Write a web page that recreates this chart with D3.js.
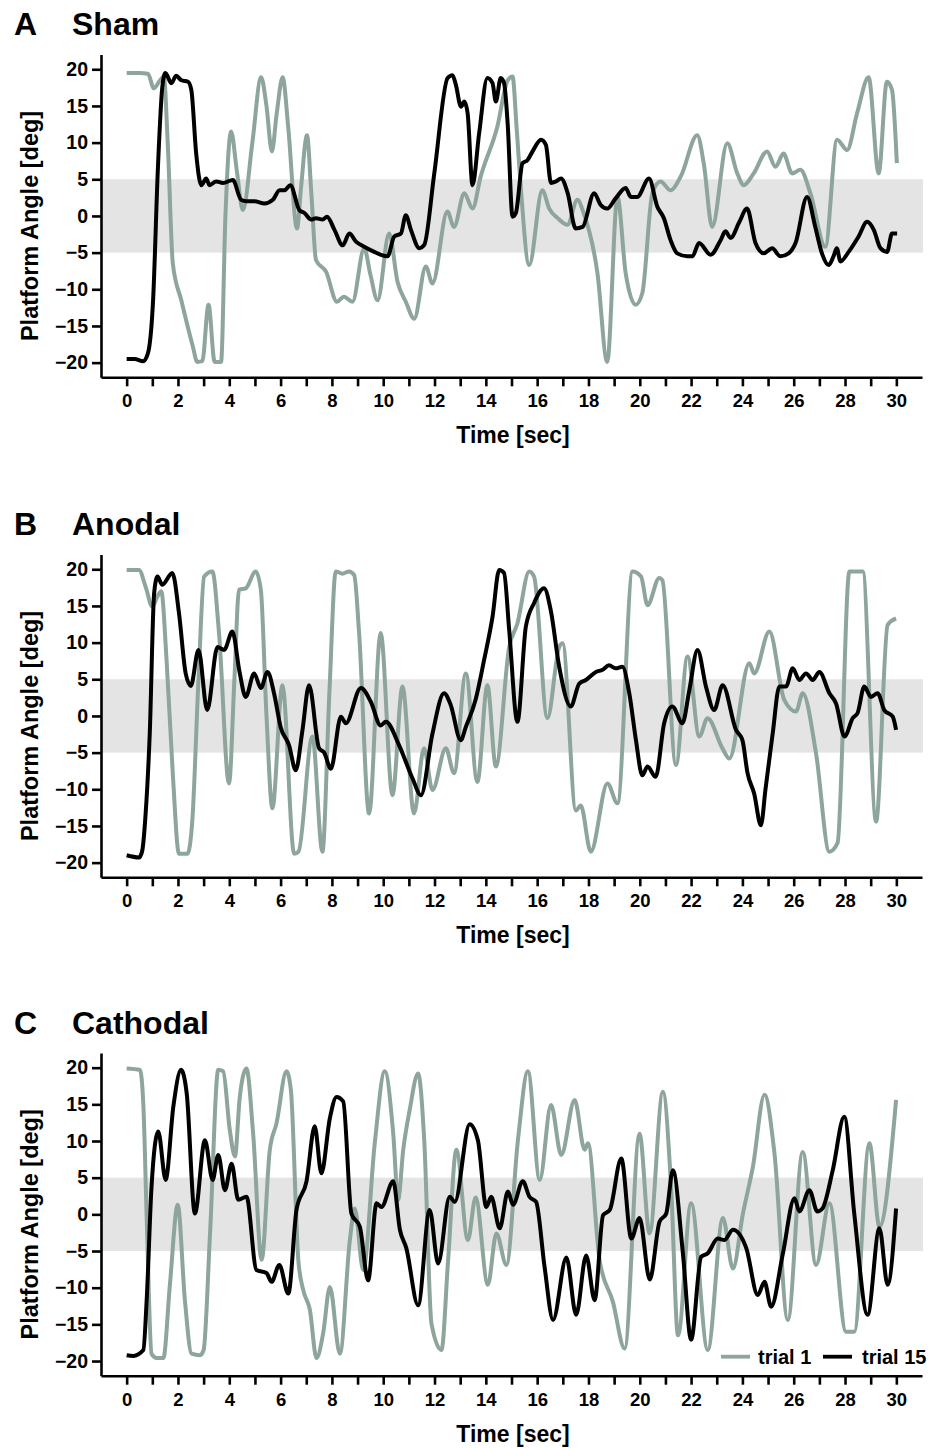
<!DOCTYPE html>
<html>
<head>
<meta charset="utf-8">
<script src="https://cdn.jsdelivr.net/npm/d3@7"></script>
<style>
  body { margin: 0; background: #fff; }
  svg { display: block; font-family: "Liberation Sans", Arial, sans-serif; font-weight: bold; }
</style>
</head>
<body>
<svg id="chart" width="936" height="1448"></svg>
<script>
// time [sec], platform angle [deg]
var shamTrial1 = [[0,19.5],[0.5,19.5],[0.83,19.4],[1.06,17.4],[1.3,18.5],[1.45,19],[1.6,10],[1.8,-6.5],[2.13,-11.5],[2.58,-17.8],[2.75,-19.9],[2.95,-19.8],[3.19,-12.1],[3.43,-19.9],[3.68,-19.9],[3.85,0],[4.07,11.5],[4.3,6],[4.53,0.8],[4.9,10],[5.24,18.9],[5.45,15],[5.66,8.8],[5.85,14],[6.08,18.9],[6.3,12],[6.64,-1.7],[6.8,4],[7.03,11],[7.2,3],[7.38,-6],[7.77,-7.6],[8.2,-11.7],[8.47,-11],[8.8,-11.7],[9.26,-4.4],[9.5,-8],[9.78,-11.5],[10.23,-2.4],[10.56,-9],[10.88,-11.7],[11.21,-14],[11.66,-6.9],[11.92,-9.2],[12.5,0.6],[12.76,-1.5],[13.16,3.1],[13.48,1.0],[13.8,5.4],[14.45,12.2],[14.85,18.5],[15.04,19],[15.2,12],[15.36,4],[15.69,-6.7],[16.2,3.5],[16.47,1],[16.8,-0.3],[17.18,-1.2],[17.57,2.2],[17.8,0.5],[18.35,-7.8],[18.73,-19.9],[19.13,2.6],[19.45,-7.8],[19.84,-12.1],[20.1,-10.5],[20.49,3.1],[20.81,4.7],[21.2,3.5],[21.6,5.4],[22.24,11],[22.5,7],[22.82,-1.5],[23.41,9.9],[23.8,5.8],[24.05,4.2],[24.44,5.8],[24.96,8.8],[25.29,6.7],[25.6,8.5],[25.94,5.8],[26.26,6.3],[26.65,3.1],[27.23,-4.2],[27.69,10.4],[28.08,9.0],[28.47,14],[28.92,18.9],[29.31,5.8],[29.63,18.3],[29.83,17.2],[30.02,7.2]];

var shamTrial15 = [[0,-19.5],[0.31,-19.5],[0.64,-19.8],[0.83,-18.7],[1.03,-11.5],[1.22,6.7],[1.39,17.6],[1.51,19.5],[1.74,18.1],[1.93,19.1],[2.13,18.5],[2.39,18.3],[2.52,17.2],[2.71,8.5],[2.91,4.2],[3.1,5.1],[3.23,4.2],[3.49,4.7],[3.75,4.5],[4.14,4.9],[4.46,2.2],[4.66,2],[4.98,2],[5.37,1.7],[5.7,2.2],[5.96,3.5],[6.15,3.5],[6.38,4.2],[6.73,0.8],[6.93,0.4],[7.19,-0.5],[7.38,-0.3],[7.64,-0.5],[7.81,-0.1],[8.1,-1.9],[8.42,-4],[8.68,-2.4],[8.94,-3.5],[9.26,-4.2],[9.65,-4.9],[9.91,-5.3],[10.17,-5.5],[10.43,-2.8],[10.69,-2.4],[10.88,0.1],[11.08,-1.9],[11.41,-4.4],[11.6,-3.95],[11.99,5.8],[12.51,18.8],[12.7,19.2],[12.83,17.9],[13.03,14.9],[13.16,15.6],[13.29,14],[13.48,4.2],[13.74,11.3],[14.06,18.8],[14.26,18.1],[14.39,15.6],[14.58,18.8],[14.71,18.1],[14.85,12.6],[15.04,-0.1],[15.17,0.4],[15.43,7.2],[15.62,7.6],[15.82,8.8],[16.15,10.4],[16.34,9.7],[16.54,4.5],[16.73,4.7],[16.93,5.1],[17.19,3.1],[17.5,-1.7],[17.77,-1.5],[18.22,3.1],[18.48,1.5],[18.73,1],[19.06,2.4],[19.45,3.8],[19.65,2.6],[19.9,2.6],[20.36,5.1],[20.68,1.3],[20.94,-0.3],[21.2,-3.3],[21.46,-5.1],[21.85,-5.5],[22.05,-5.5],[22.31,-3.7],[22.76,-5.3],[23.15,-3.3],[23.34,-2.1],[23.54,-3.0],[23.87,-0.9],[24.18,1.0],[24.51,-3.7],[24.83,-5.1],[25.16,-4.4],[25.48,-5.5],[25.8,-5.1],[26.07,-3.7],[26.52,2.6],[26.84,-1.5],[27.1,-5.1],[27.36,-6.7],[27.55,-5.5],[27.68,-4.4],[27.82,-6.2],[28.14,-4.9],[28.53,-2.8],[28.86,-0.8],[29.12,-1.9],[29.38,-4.4],[29.64,-4.9],[29.83,-2.4],[30.03,-2.4]];

var anodalTrial1 = [[0,19.9],[0.48,19.9],[0.74,17.6],[1.0,14.9],[1.2,16.3],[1.35,17],[1.55,8],[1.8,-8],[2.04,-18.8],[2.37,-18.8],[2.56,-14.2],[2.8,5],[3.02,19],[3.34,19.7],[3.6,11.3],[3.99,-9.2],[4.2,5],[4.38,17.2],[4.64,17.4],[5.03,19.7],[5.23,17.2],[5.45,0],[5.68,-12.6],[6.07,4.2],[6.53,-18.8],[6.7,-18.5],[7.24,-2.8],[7.63,-18.5],[7.9,3],[8.15,19.7],[8.41,19.4],[8.67,19.7],[8.87,19.2],[9.06,11.3],[9.45,-13.3],[9.9,11.3],[10.36,-10.8],[10.75,4.0],[11.2,-13.3],[11.59,-4.4],[11.92,-10.1],[12.44,-4.4],[12.76,-7.8],[13.22,5.8],[13.67,-9.0],[14.06,4.2],[14.39,-6.9],[14.91,9.4],[15.23,12.6],[15.69,19.7],[15.88,19],[16.4,-0.3],[16.86,9.4],[16.99,9.9],[17.51,-12.9],[17.7,-12.2],[18.09,-18.5],[18.74,-9.2],[19.13,-11.9],[19.72,19.7],[20.05,19],[20.3,15.1],[20.76,18.8],[20.88,18.5],[21.41,-6.7],[21.86,8.1],[22.32,-2.8],[22.64,-0.3],[23.22,-4.4],[23.49,-5.8],[24.27,7.2],[24.46,5.8],[25.05,11.5],[25.63,2.2],[26.09,0.6],[26.35,3.1],[26.87,-5.1],[27.39,-18.5],[27.71,-17.3],[28.17,19.7],[28.69,19.7],[29.21,-14.4],[29.66,12.4],[29.99,13.3]];

var anodalTrial15 = [[0,-19],[0.48,-19.3],[0.6,-18.5],[0.74,-13.3],[0.9,-2.4],[1.07,16.7],[1.2,19],[1.39,17.9],[1.78,19.5],[2.04,14],[2.3,5.8],[2.5,4.1],[2.8,9],[3.14,0.8],[3.54,9.4],[3.8,9.0],[4.12,11.5],[4.4,6],[4.64,2.6],[4.97,5.8],[5.23,3.8],[5.49,6.0],[5.75,3],[6.0,-1.5],[6.33,-4.0],[6.59,-7.4],[6.85,-2],[7.11,4.2],[7.5,-4.4],[7.7,-5],[7.96,-7.2],[8.35,-0.1],[8.54,-1.0],[9.13,3.8],[9.52,1.9],[9.9,-1.3],[10.1,-0.8],[10.62,-4.0],[11.14,-8.5],[11.47,-10.8],[11.92,-2.4],[12.37,3.1],[12.63,1.5],[13.02,-3.3],[13.22,-1.5],[13.6,2.2],[13.93,7.6],[14.26,13.5],[14.52,19.9],[14.71,19.5],[14.91,11.7],[15.23,-0.8],[15.56,12.2],[15.88,15.4],[16.27,17.4],[16.53,14.4],[16.86,6.7],[17.31,1.3],[17.64,4.4],[17.9,4.9],[18.29,6.0],[18.55,6.3],[18.8,6.9],[19.06,6.5],[19.32,6.7],[19.59,3.1],[19.85,-3.3],[20.1,-8.1],[20.3,-6.9],[20.62,-8.3],[20.95,-1.0],[21.27,1.3],[21.66,-1.0],[21.93,3.5],[22.25,9.0],[22.58,4.0],[22.9,0.8],[23.23,4.2],[23.75,-1.9],[24.0,-3.3],[24.2,-7.8],[24.46,-10.6],[24.72,-14.9],[24.9,-10],[25.18,-2.4],[25.44,4.0],[25.7,4.0],[25.96,6.5],[26.22,4.9],[26.48,5.8],[26.74,4.9],[27.0,6.0],[27.39,3.1],[27.65,1.7],[27.98,-2.8],[28.3,-0.3],[28.49,0.4],[28.75,4.0],[29.01,2.6],[29.27,3.1],[29.53,0.8],[29.86,-0.1],[29.99,-1.9]];

var cathodalTrial1 = [[0,19.9],[0.52,19.7],[0.65,15],[0.78,-0.3],[0.97,-19],[1.17,-19.6],[1.43,-19.6],[1.69,-9.4],[1.99,1.3],[2.27,-11.7],[2.53,-19],[2.86,-19.2],[3.0,-18.5],[3.25,-2.6],[3.57,19.7],[3.76,19.5],[4.02,11.5],[4.22,7.9],[4.41,16],[4.67,19.9],[4.93,11],[5.26,-6.2],[5.58,8.8],[5.84,12.4],[6.23,19.5],[6.4,17],[6.69,-6.2],[6.88,-10.3],[7.14,-13],[7.4,-19.6],[7.66,-16.2],[7.92,-9.9],[8.31,-19],[8.7,-3.5],[8.89,0.8],[9.22,-7.6],[9.67,9.7],[10.06,19.5],[10.39,11],[10.58,2],[10.78,8.8],[11.03,14.2],[11.36,19.2],[11.6,10],[11.88,-14.9],[12.27,-18.5],[12.53,-6.2],[12.85,8.8],[13.3,-3.5],[13.6,2.3],[14.08,-9.6],[14.41,-2.6],[14.8,-6.9],[15.25,10.1],[15.64,19.5],[16.1,4.7],[16.54,14.9],[16.94,8.1],[17.46,15.6],[17.85,8.8],[17.98,9.7],[18.43,-6.2],[18.95,-11.9],[19.41,-18.3],[19.99,11],[20.38,-2.6],[20.9,16.7],[21.22,3.8],[21.49,-16.5],[22.0,1.5],[22.65,-18.5],[23.24,-0.5],[23.63,-7.4],[24.02,0.1],[24.41,6.5],[24.86,16.3],[25.25,8.3],[25.77,-14.4],[26.35,8.5],[26.87,-6.9],[27.39,1.5],[28.04,-16],[28.36,-16],[28.95,9.7],[29.34,-1.7],[29.99,15.6]];

var cathodalTrial15 = [[0,-19.2],[0.26,-19.3],[0.65,-18.5],[0.78,-11.7],[0.97,3.8],[1.23,11.3],[1.52,4.7],[1.82,14.7],[2.12,19.7],[2.34,16.5],[2.66,0.1],[3.05,10.1],[3.35,4.7],[3.57,8.1],[3.83,3.3],[4.09,6.9],[4.35,2.0],[4.67,2.4],[5.06,-7.6],[5.45,-8.0],[5.65,-9.2],[5.95,-6.9],[6.3,-10.8],[6.62,0.6],[7.01,4.5],[7.33,12],[7.59,5.6],[7.92,13.1],[8.18,16],[8.44,15.4],[8.76,0.1],[9.09,-1.7],[9.41,-9.0],[9.74,1.5],[9.93,1.0],[10.39,4.5],[10.65,-2.1],[10.9,-4.6],[11.36,-12.4],[11.81,0.6],[12.14,-6.7],[12.59,2.4],[12.79,1.7],[13.37,12.3],[13.69,10.1],[14.02,1.0],[14.21,2.4],[14.54,-1.9],[14.86,3.1],[15.06,1.3],[15.44,4.5],[15.7,2.4],[15.96,1.7],[16.29,-7.2],[16.62,-14.4],[17.14,-5.9],[17.52,-13.7],[17.91,-5.6],[18.24,-11.7],[18.57,-0.1],[18.83,0.6],[19.28,7.6],[19.67,-3.3],[19.99,-0.5],[20.39,-8.9],[20.77,-1.0],[21.03,0.1],[21.29,6.0],[21.68,-5.3],[22.0,-17.1],[22.39,-5.8],[22.65,-5.3],[23.04,-3.3],[23.3,-3.5],[23.63,-2.1],[24.15,-4.6],[24.6,-11.0],[24.86,-9.2],[25.12,-12.6],[25.57,-5.5],[26.03,2.2],[26.22,0.4],[26.61,3.3],[26.92,0.4],[27.12,0.8],[27.52,6.0],[27.97,13.3],[28.36,0.1],[28.88,-13.7],[29.34,-1.9],[29.66,-9.6],[29.99,0.8]];

var panelLetters = ['A', 'B', 'C'];
var panelTitles = ['Sham', 'Anodal', 'Cathodal'];
var trialNames = ['trial 1', 'trial 15'];
var bandRange = [-5, 5];
var yTicks = [-20, -15, -10, -5, 0, 5, 10, 15, 20];

var
  svg = d3.select('#chart'),
  colors = ['#8da59b', '#000000'],
  panelTops = [54.6, 554.6, 1053],
  plotH = 322.7,
  xDom = [-1, 31],
  xRng = [101, 922],
  yDom = [-22, 22]
  ;

var panels = [
  [shamTrial1, shamTrial15],
  [anodalTrial1, anodalTrial15],
  [cathodalTrial1, cathodalTrial15]
];

var xScale = d3.scaleLinear().domain(xDom).range(xRng);

function drawPanel(i){
  var
    top = panelTops[i],
    yScale = d3.scaleLinear().domain(yDom).range([top + plotH, top]),
    g = svg.append('g').attr('class', 'panel'),
    line = d3.line()
      .curve(d3.curveMonotoneX)
      .x(function(d){ return xScale(d[0]); })
      .y(function(d){ return yScale(d[1]); })
    ;

  // tolerance band
  g.append('rect')
    .attr('x', xRng[0])
    .attr('y', yScale(bandRange[1]))
    .attr('width', xRng[1] - xRng[0] + 1)
    .attr('height', yScale(bandRange[0]) - yScale(bandRange[1]))
    .attr('fill', '#e4e4e4');

  panels[i].forEach(function(series, k){
    g.append('path')
      .datum(series)
      .attr('fill', 'none')
      .attr('stroke', colors[k])
      .attr('stroke-width', 4)
      .attr('stroke-linejoin', 'round')
      .attr('d', line);
  });

  var yAxis = d3.axisLeft(yScale)
    .tickValues(yTicks)
    .tickSize(9)
    .tickSizeOuter(0)
    .tickPadding(4);

  var xAxis = d3.axisBottom(xScale)
    .tickValues(d3.range(0, 31, 1))
    .tickFormat(function(d){ return d % 2 === 0 ? d : ''; })
    .tickSize(9)
    .tickSizeOuter(0)
    .tickPadding(8);

  var ya = g.append('g')
    .attr('transform', 'translate(' + xRng[0] + ',0)')
    .call(yAxis);
  var xa = g.append('g')
    .attr('transform', 'translate(0,' + (top + plotH) + ')')
    .call(xAxis);

  [ya, xa].forEach(function(a){
    a.selectAll('path, line').attr('stroke', '#000').attr('stroke-width', 2.6);
    a.selectAll('text')
      .attr('fill', '#000')
      .style('font-family', '"Liberation Sans", Arial, sans-serif')
      .style('font-weight', 'bold');
  });
  ya.selectAll('text').style('font-size', '19.5px');
  xa.selectAll('text').style('font-size', '18.5px');

  // titles
  g.append('text')
    .attr('x', 14)
    .attr('y', top - 19.5)
    .style('font-size', '32px')
    .text(panelLetters[i]);
  g.append('text')
    .attr('x', 72)
    .attr('y', top - 19.5)
    .style('font-size', '32px')
    .text(panelTitles[i]);

  g.append('text')
    .attr('transform', 'translate(38,' + (yScale(0) + 10) + ') rotate(-90)')
    .attr('text-anchor', 'middle')
    .style('font-size', '23.5px')
    .text('Platform Angle [deg]');

  g.append('text')
    .attr('x', 513)
    .attr('y', top + plotH + 66)
    .attr('text-anchor', 'middle')
    .style('font-size', '23px')
    .text('Time [sec]');

  if(i === 2){
    var lg = g.append('g').attr('transform', 'translate(0,' + (top + plotH - 19) + ')');
    var legendX = [[721, 758], [823, 862]];
    trialNames.forEach(function(name, k){
      lg.append('line')
        .attr('x1', legendX[k][0]).attr('x2', legendX[k][0] + 29)
        .attr('y1', 0).attr('y2', 0)
        .attr('stroke', colors[k])
        .attr('stroke-width', 3.8);
      lg.append('text')
        .attr('x', legendX[k][1])
        .attr('y', 7)
        .style('font-size', '20px')
        .text(name);
    });
  }
}

panels.forEach(function(p, i){ drawPanel(i); });
</script>
</body>
</html>
